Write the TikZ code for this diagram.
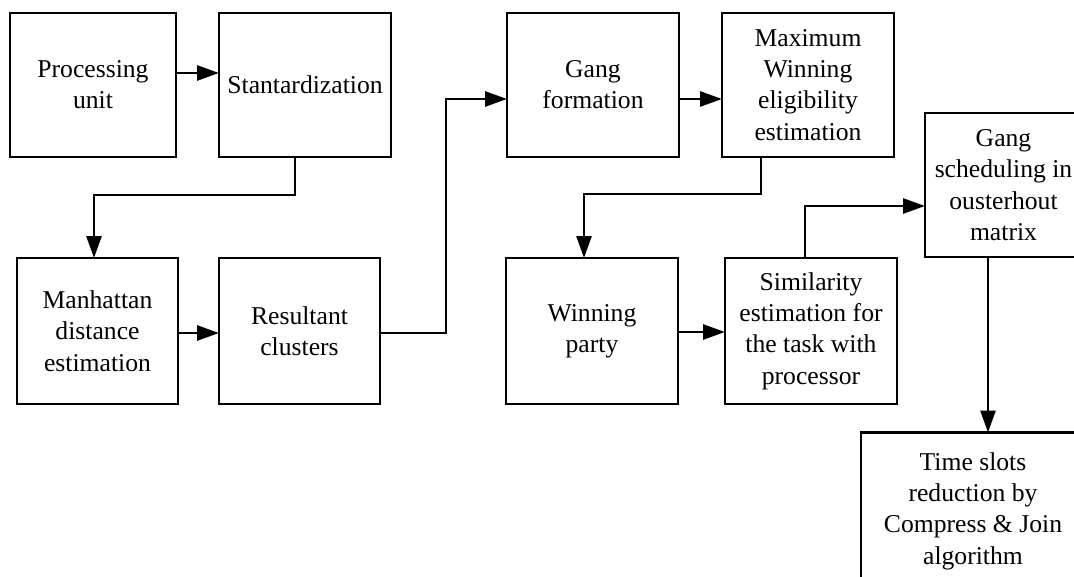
\documentclass[tikz,border=0pt]{standalone}
\usepackage{fontspec}
\setmainfont{Liberation Serif}
\usetikzlibrary{arrows.meta}

\begin{document}
\begin{tikzpicture}[
    x=0.02cm, y=-0.02cm,
    font=\fontsize{14.6}{17.8}\selectfont,
    blk/.style={draw, line width=1.5pt, align=center, inner sep=2pt,
                outer sep=0pt, minimum width=3.44cm, minimum height=2.88cm},
    sig/.style={-{Triangle[length=0.44cm, width=0.3cm]}, line width=1.5pt},
]
\useasboundingbox (0,0) rectangle (1074,577);
\clip (0,0) rectangle (1074,577);

% ===================== Fila superior =====================
\node[blk, minimum width=3.32cm] (proc) at (93,85) {Processing\\unit};
\node[blk] (stdz) at (305,85) {Stantardization};
\node[blk] (gang) at (593,85) {Gang\\formation};
\node[blk] (maxw) at (808,85) {Maximum\\Winning\\eligibility\\estimation};

% ===================== Fila inferior =====================
\node[blk, minimum width=3.22cm, minimum height=2.92cm] (manh) at (97.5,331)
      {Manhattan\\distance\\estimation};
\node[blk, minimum width=3.22cm, minimum height=2.92cm] (rslt) at (299.5,331)
      {Resultant\\clusters};
\node[blk, minimum height=2.92cm] (winp) at (592,331) {Winning\\party};
\node[blk, minimum height=2.92cm] (simi) at (811,331)
      {Similarity\\estimation for\\the task with\\processor};

% ===================== Columna derecha (cortada por el borde) =====================
\node[blk, minimum width=3.14cm] (gsch) at (1003.5,185)
      {Gang\\scheduling in\\ousterhout\\matrix};
\node[blk, minimum width=4.48cm, minimum height=3.14cm] (tslt) at (973,511)
      {Time slots\\reduction by\\Compress \& Join\\algorithm};

% ===================== Flechas =====================
\draw[sig] (proc.east |- 0,73) -- (stdz.west |- 0,73);
\draw[sig] (stdz.south -| 295,0) -- (295,195) -- (94,195) -- (manh.north -| 94,0);
\draw[sig] (manh.east |- 0,333) -- (rslt.west |- 0,333);
\draw[sig] (rslt.east |- 0,333) -- (446,333) -- (446,99) -- (gang.west |- 0,99);
\draw[sig] (gang.east |- 0,99) -- (maxw.west |- 0,99);
\draw[sig] (maxw.south -| 761,0) -- (761,194) -- (584,194) -- (winp.north -| 584,0);
\draw[sig] (winp.east |- 0,332) -- (simi.west |- 0,332);
\draw[sig] (simi.north -| 805,0) -- (805,206) -- (gsch.west |- 0,206);
\draw[sig] (gsch.south -| 988,0) -- (tslt.north -| 988,0);

\end{tikzpicture}
\end{document}
